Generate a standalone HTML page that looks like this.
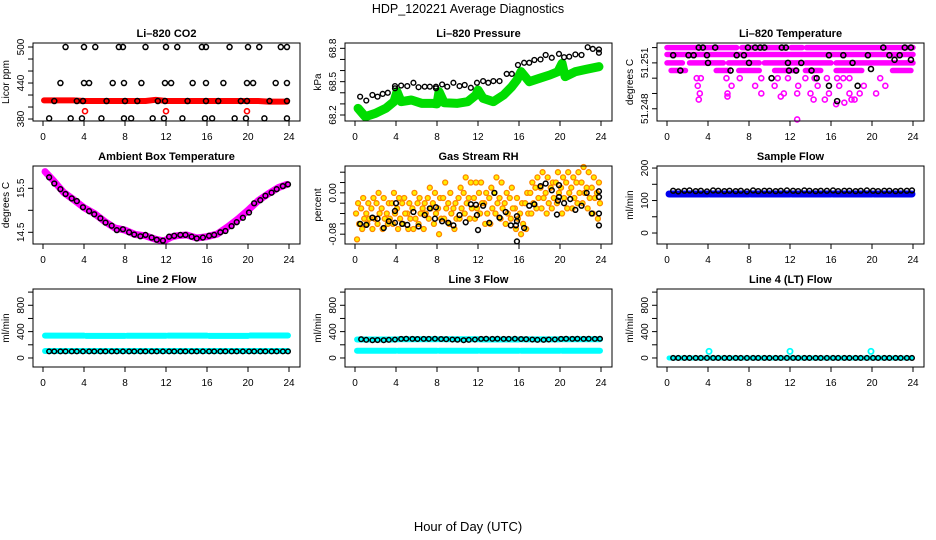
<!DOCTYPE html>
<html><head><meta charset="utf-8"><style>
html,body{margin:0;padding:0;background:#fff;}
svg{display:block;font-family:"Liberation Sans",Arial,sans-serif;}
</style></head><body>
<svg id="chart" width="936" height="540" viewBox="0 0 936 540" xmlns="http://www.w3.org/2000/svg">
<rect width="936" height="540" fill="#fff"/>
<text x="468" y="13" text-anchor="middle" font-size="12.5">HDP_120221  Average Diagnostics</text>
<text x="468" y="531" text-anchor="middle" font-size="13">Hour of Day (UTC)</text>
</svg>
<script>
// ---------- data ----------
const xTicks = [0,4,8,12,16,20,24];
// CO2
const co2Hi = [2.2,4,5.1,7.4,7.8,10,12,13.1,15.5,15.9,18.2,20,21.1,23.2,23.8];
const co2HiVal = 500;
const co2Mid = [1.7,4,4.5,6.8,7.9,9.6,11.9,12.5,14.6,15.9,17.6,19.9,20.5,22.7,23.8];
const co2MidVal = 440;
const co2Low = [1.1,3.3,3.9,6.2,8,9.2,11.2,11.9,14.1,15.9,17.1,19.3,19.9,22.1,23.8];
const co2LowVal = 410;
const co2Min = [0.6,2.7,3.8,5.7,7.9,8.6,10.7,11.8,13.6,15.8,16.5,18.7,19.8,21.6,23.8];
const co2MinVal = 381;
const co2RedHours = [0.1,1,2,3,4,5,6,7,8,9,10,11,12,13,14,15,16,17,18,19,20,21,22,23,23.8];
const co2RedVals = [411,411,411,411,410,410,410,410,410,410,410,412,410,410,410,410,410,410,410,410,410,410,409,409,409];
const co2RedOutHours = [4.1,12,19.9];
const co2RedOutVals = [393,393,393];
// Pressure
const presGreenHours = [0.3,1,2,3,3.8,4.1,4.5,5.5,6.5,7.5,8.0,8.2,8.7,10,11,11.8,12,12.5,13.5,14.5,15.3,15.8,16.2,17,18,19,19.8,20.2,20.5,21.5,22.5,23.8];
const presGreenVals = [68.26,68.185,68.215,68.26,68.32,68.41,68.32,68.335,68.305,68.305,68.30,68.41,68.31,68.305,68.32,68.38,68.425,68.35,68.32,68.38,68.455,68.515,68.59,68.50,68.53,68.56,68.59,68.665,68.545,68.59,68.61,68.635];
const presBlackHours = [0.5,1.1,1.7,2.2,2.7,3.2,3.9,3.9,4.5,5.1,5.7,6.2,6.8,7.3,7.9,7.9,8.5,9.0,9.6,10.2,10.7,11.3,11.9,12.5,13.0,13.5,14.1,14.8,15.3,15.9,16.5,17.0,17.5,18.1,18.6,19.2,19.9,20.4,20.9,21.5,22.1,22.7,23.2,23.8,23.8];
const presBlackVals = [68.365,68.33,68.38,68.365,68.39,68.40,68.46,68.44,68.465,68.46,68.49,68.45,68.455,68.455,68.455,68.44,68.475,68.455,68.49,68.46,68.47,68.445,68.49,68.505,68.49,68.505,68.505,68.57,68.57,68.65,68.67,68.67,68.695,68.70,68.74,68.715,68.75,68.72,68.725,68.745,68.74,68.81,68.795,68.79,68.76];
// Li-820 temperature
const tempBandLevels = [51.2520,51.2520,51.2520,51.2520,51.2520,51.25155,51.2510,51.2510,51.2510,51.2510,51.2510,51.2510,51.2505,51.2505,51.2505,51.2505,51.2505,51.2505,51.2505];
const tempBandStart = [0,3.5,7.3,12.1,13.6,0,0,2.2,6,9.5,13.5,16.5,0.4,4.8,7,10.5,13.5,16.5,22];
const tempBandEnd = [3.2,6.8,11.5,13.2,24,24,1.5,5.5,9,13,16,24,1.8,6,9,12.5,15,19,23.8];
const tempMagHours = [2.9,3.3,5.8,7.1,9.2,10.8,11.8,13.5,14.4,15.6,16.6,17.2,17.8,20.8,3,6.3,8.6,10.5,12.8,14.7,16.8,19.2,21.3,3.2,5.9,9.2,11.4,12.7,14,15.8,17.8,18.8,20.4,3.1,11.1,14.3,15.4,16.5,17.3,18,18.3,5.9,12.7];
const tempMagVals = [51.2500,51.2500,51.2500,51.2500,51.2500,51.2500,51.2500,51.2500,51.2500,51.2500,51.2500,51.2500,51.2500,51.2500,51.2495,51.2495,51.2495,51.2495,51.2495,51.2495,51.2495,51.2495,51.2495,51.2490,51.2490,51.2490,51.2490,51.2490,51.2490,51.2490,51.2490,51.2490,51.2490,51.2486,51.2488,51.2486,51.2486,51.2483,51.2484,51.2486,51.2486,51.2488,51.2473];
const tempBlackHours = [0.6,1.3,2.1,2.6,3.1,3.5,3.9,4.0,4.7,6.2,6.8,7.5,7.9,8,8.6,9.1,9.5,10.2,11.2,11.6,11.8,11.9,12.6,13.1,14.1,14.6,15.8,15.8,16.6,17.2,18.1,18.6,19.6,19.9,21.1,21.7,22.2,22.7,23.2,23.8,23.8];
const tempBlackVals = [51.2515,51.2505,51.2515,51.2515,51.2520,51.2520,51.2515,51.2510,51.2520,51.2505,51.2515,51.2515,51.2520,51.2510,51.2520,51.2520,51.2520,51.2500,51.2520,51.2520,51.2510,51.2505,51.2505,51.2510,51.2505,51.2500,51.2515,51.2495,51.2485,51.2515,51.2510,51.2495,51.2515,51.2506,51.2520,51.2515,51.2512,51.2515,51.2520,51.2512,51.2520];
// Ambient box temperature
const ambMagHours = [0.2,1,2,3,4,5,6,7,8,9,10,11,11.8,12.5,13,14,15,16,17,18,19,20,21,22,23,23.8];
const ambMagVals = [15.88,15.68,15.41,15.24,15.06,14.93,14.75,14.6,14.55,14.45,14.42,14.34,14.3,14.39,14.42,14.44,14.37,14.4,14.46,14.62,14.8,15.0,15.22,15.38,15.52,15.59];
const flowHours = [0.6,1.1,1.7,2.2,2.8,3.3,3.9,4.5,5.0,5.6,6.1,6.7,7.2,7.8,8.4,8.9,9.5,10.0,10.6,11.1,11.7,12.3,12.8,13.4,13.9,14.5,15.0,15.6,16.2,16.7,17.3,17.8,18.4,18.9,19.5,20.1,20.6,21.2,21.7,22.3,22.8,23.4,23.9];
const ambBlackVals = [15.75,15.61,15.48,15.37,15.27,15.21,15.07,14.98,14.91,14.82,14.72,14.65,14.55,14.57,14.5,14.45,14.41,14.44,14.38,14.33,14.31,14.40,14.42,14.44,14.44,14.40,14.36,14.38,14.42,14.44,14.5,14.53,14.64,14.73,14.83,14.95,15.16,15.23,15.33,15.4,15.48,15.55,15.59];
// Gas stream RH
const rhHours = [0.25,0.75,1.25,1.75,2.25,2.75,3.25,3.75,4.25,4.75,5.25,5.75,6.25,6.75,7.25,7.75,8.25,8.75,9.25,9.75,10.25,10.75,11.25,11.75,12.25,12.75,13.25,13.75,14.25,14.75,15.25,15.75,16.25,16.75,17.25,17.75,18.25,18.75,19.25,19.75,20.25,20.75,21.25,21.75,22.25,22.75,23.25,23.75];
const rhHi = [-0.02,-0.01,-0.02,-0.01,0.0,-0.01,-0.02,0.0,-0.01,-0.01,-0.02,0.0,-0.01,-0.02,0.01,0.0,-0.01,0.02,0.0,-0.02,0.01,0.03,0.02,0.02,0.02,0.0,0.01,0.03,0.02,0.0,0.01,-0.01,-0.02,0.0,0.02,0.03,0.04,0.03,0.02,0.04,0.03,0.04,0.03,0.04,0.05,0.04,0.03,0.02];
const rhMid1 = [-0.04,-0.03,-0.04,-0.03,-0.02,-0.03,-0.04,-0.02,-0.03,-0.02,-0.04,-0.03,-0.02,-0.03,-0.01,-0.02,-0.03,-0.01,-0.02,-0.03,-0.01,0.0,-0.01,-0.01,0.0,-0.02,-0.01,0.0,-0.01,-0.02,-0.01,-0.03,-0.04,-0.02,0.0,0.01,0.01,0.0,0.01,0.02,0.01,0.02,0.01,0.02,0.02,0.01,0.01,0.0];
const rhMid2 = [-0.06,-0.05,-0.05,-0.05,-0.04,-0.05,-0.05,-0.04,-0.05,-0.04,-0.05,-0.05,-0.04,-0.04,-0.03,-0.04,-0.05,-0.03,-0.04,-0.05,-0.03,-0.02,-0.03,-0.03,-0.02,-0.04,-0.03,-0.02,-0.03,-0.04,-0.03,-0.05,-0.06,-0.04,-0.02,-0.01,-0.01,-0.02,-0.01,0.0,-0.01,0.0,-0.01,0.0,0.0,-0.01,-0.01,-0.02];
const rhLo = [-0.09,-0.07,-0.06,-0.07,-0.06,-0.07,-0.06,-0.06,-0.07,-0.06,-0.07,-0.07,-0.06,-0.07,-0.05,-0.06,-0.08,-0.05,-0.06,-0.07,-0.05,-0.04,-0.05,-0.05,-0.04,-0.06,-0.06,-0.04,-0.05,-0.06,-0.05,-0.07,-0.08,-0.07,-0.04,-0.03,-0.03,-0.04,-0.03,-0.02,-0.04,-0.03,-0.03,-0.02,-0.02,-0.03,-0.04,-0.05];
const rhBlackHours = [0.5,1.1,1.7,2.2,2.8,3.3,3.9,3.9,4.0,4.6,5.1,5.7,6.2,6.8,7.3,7.9,7.8,8.5,9.1,9.6,10.2,10.8,11.3,11.8,11.9,12.0,12.5,13.1,13.6,14.1,14.7,15.2,15.7,15.8,15.8,15.8,16.5,17.0,17.5,18.1,18.6,19.2,19.7,19.8,19.9,19.9,20.4,21.0,21.5,22.1,22.6,23.1,23.8,23.8,23.8,23.8];
const rhBlackVals = [-0.06,-0.062,-0.048,-0.05,-0.068,-0.055,-0.058,-0.035,-0.02,-0.06,-0.062,-0.037,-0.065,-0.043,-0.03,-0.028,-0.05,-0.055,-0.058,-0.063,-0.043,-0.057,-0.022,-0.023,-0.043,-0.072,-0.025,-0.058,0.0,-0.048,-0.037,-0.063,-0.063,-0.045,-0.055,-0.094,-0.068,-0.025,-0.022,0.013,0.018,0.005,-0.042,-0.015,-0.008,0.015,-0.02,-0.012,-0.033,-0.025,0.0,-0.04,-0.04,-0.063,-0.008,0.003];
// Flows
const segStart = [0.2,4.2,8.2,12.2,16.2,20.2];
const segEnd = [4.0,8.0,12.0,16.0,20.0,23.9];
const sampleBandVals = [120,120,120,120,120,120];
const sampleBlackVals = [130,128,130,131,129,130,128,131,130,129,130,129,130,128,131,129,130,130,129,130,131,130,129,131,130,129,130,130,131,129,130,130,129,130,131,130,129,130,130,129,130,130,131];
const line2UpperVals = [340,335,338,340,335,342];
const line2LowerVals = [105,105,105,105,105,105];
const line2BlackVals = [100,100,100,100,100,100,100,100,100,100,100,100,100,100,100,100,100,100,100,100,100,100,100,100,100,100,100,100,100,100,100,100,100,100,100,100,100,100,100,100,100,100,100];
const line3LowerVals = [110,110,110,110,110,110];
const line3UpperVals = [280,285,285,280,282,285];
const line3BlackVals = [285,275,270,272,270,275,280,290,292,290,288,290,290,292,288,285,280,278,270,275,280,290,292,290,292,290,290,292,288,285,280,275,275,280,282,290,292,290,292,290,292,290,292];
const line4BandVals = [0,0,0,0,0,0];
const line4BlackVals = [0,0,0,0,0,0,0,0,0,0,0,0,0,0,0,0,0,0,0,0,0,0,0,0,0,0,0,0,0,0,0,0,0,0,0,0,0,0,0,0,0,0,0];
const line4OutHours = [4.1,12,19.9];
const line4OutVals = [100,100,100];

// ---------- drawing ----------
const NS = 'http://www.w3.org/2000/svg';
const svg = document.getElementById('chart');
function mk(tag, attrs, parent){
  const e = document.createElementNS(NS, tag);
  for (const k in attrs) e.setAttribute(k, attrs[k]);
  parent.appendChild(e);
  return e;
}
function panel(c, r, name, title, ylab, d0, d1, ticks, labels){
  const L = 33 + 312*c, R = 300 + 312*c, T = 43 + 123*r, B = 121 + 123*r;
  const g = mk('g', {}, svg);
  
  
  const sx = h => 43 + 312*c + h * 246/24;
  const sy = v => B - (v - d0)/(d1 - d0) * (B - T);
  const t = mk('text', {x:(L+R)/2, y:T-6, 'text-anchor':'middle', 'font-size':'11', 'font-weight':'bold'}, g);
  t.textContent = title;
  
  
  const yl = mk('text', {x:0, y:0, 'text-anchor':'middle', 'font-size':'10', transform:`translate(${L-24},${(T+B)/2}) rotate(-90)`}, g);
  yl.textContent = ylab;
  
  
  xTicks.forEach(h => {
    const x = sx(h);
    const tk = mk('line', {x1:x, x2:x, y1:B, y2:B+5, stroke:'#000', 'stroke-width':1}, g);
    
    
    const tl = mk('text', {x:x, y:B+19, 'text-anchor':'middle', 'font-size':'10'}, g);
    tl.textContent = h;
    
    
  });
  ticks.forEach(v => {
    const y = sy(v);
    const tk = mk('line', {x1:L-5, x2:L, y1:y, y2:y, stroke:'#000', 'stroke-width':1}, g);
    
    
  });
  labels.forEach(lb => {
    const y = sy(lb[0]);
    const tl = mk('text', {x:0, y:0, 'text-anchor':'middle', 'font-size':'10', transform:`translate(${L-9},${y}) rotate(-90)`}, g);
    tl.textContent = lb[1];
    
    
  });
  const marks = mk('g', {}, g);
  
  
  const box = mk('rect', {x:L, y:T, width:R-L, height:B-T, fill:'none', stroke:'#000', 'stroke-width':1}, g);
  
  
  return {sx, sy, g:marks};
}
function points(P, hours, vals, color, rad, sw, fill, name, dx){
  hours.forEach((h, i) => {
    const c = mk('circle', {cx:P.sx(h + (dx||0)), cy:P.sy(vals[i]), r:rad, fill:fill||'none', stroke:color, 'stroke-width':sw}, P.g);
    
    
  });
}
function band(P, hours, vals, color, w, name){
  const pl = mk('polyline', {points:hours.map((h,i)=>P.sx(h)+','+P.sy(vals[i])).join(' '), fill:'none', stroke:color, 'stroke-width':w, 'stroke-linejoin':'round', 'stroke-linecap':'round'}, P.g);
  
  
}
function segs(P, starts, ends, vals, color, w, name){
  starts.forEach((s, i) => {
    const ln = mk('line', {x1:P.sx(s), x2:P.sx(ends[i]), y1:P.sy(vals[i]), y2:P.sy(vals[i]), stroke:color, 'stroke-width':w, 'stroke-linecap':'round'}, P.g);
    
    
  });
}
const fill = (arr, v) => arr.map(() => v);

// Panel 1: CO2
let P = panel(0,0,'co2','Li\u2013820 CO2','Licor ppm',376.7,506.7,[380,400,420,440,460,480,500],[[380,'380'],[440,'440'],[500,'500']]);
band(P, co2RedHours, co2RedVals, '#ff0000', 6, 'co2-red-band');
points(P, co2RedOutHours, co2RedOutVals, '#ff0000', 2.5, 1.6, null, 'co2-red-point');
points(P, co2Hi, fill(co2Hi, co2HiVal), '#000', 2.5, 1.5, null, 'co2-black-point');
points(P, co2Mid, fill(co2Mid, co2MidVal), '#000', 2.5, 1.5, null, 'co2-black-point');
points(P, co2Low, fill(co2Low, co2LowVal), '#000', 2.5, 1.5, null, 'co2-black-point');
points(P, co2Min, fill(co2Min, co2MinVal), '#000', 2.5, 1.5, null, 'co2-black-point');

// Panel 2: Pressure
P = panel(1,0,'pressure','Li\u2013820 Pressure','kPa',68.146,68.848,[68.2,68.3,68.4,68.5,68.6,68.7,68.8],[[68.2,'68.2'],[68.5,'68.5'],[68.8,'68.8']]);
band(P, presGreenHours, presGreenVals, '#00dd00', 9, 'pressure-green-band');
points(P, presBlackHours, presBlackVals, '#000', 2.4, 1.4, null, 'pressure-black-point');

// Panel 3: Li-820 temperature
P = panel(2,0,'li-temperature','Li\u2013820 Temperature','degrees C',51.2472,51.2523,[51.248,51.249,51.25,51.251,51.252],[[51.248,'51.248'],[51.251,'51.251']]);
segs(P, tempBandStart, tempBandEnd, tempBandLevels, '#ff00ff', 5.5, 'temp-magenta-band');
points(P, tempMagHours, tempMagVals, '#ff00ff', 2.5, 1.6, null, 'temp-magenta-point');
points(P, tempBlackHours, tempBlackVals, '#000', 2.5, 1.6, null, 'temp-black-point');

// Panel 4: Ambient box temperature
P = panel(0,1,'ambient-temperature','Ambient Box Temperature','degrees C',14.234,16.007,[14.5,15,15.5],[[14.5,'14.5'],[15.5,'15.5']]);
band(P, ambMagHours, ambMagVals, '#ff00ff', 7, 'ambient-magenta-band');
points(P, flowHours, ambBlackVals, '#000', 2.4, 1.5, null, 'ambient-black-point');

// Panel 5: RH
P = panel(1,1,'gas-rh','Gas Stream RH','percent',-0.099,0.052,[-0.08,-0.06,-0.04,-0.02,0,0.02,0.04],[[-0.08,'-0.08'],[0,'0.00']]);
points(P, rhHours, rhHi, '#ff8800', 2.5, 1.3, '#ffee00', 'rh-orange-point', 0.05);
points(P, rhHours, rhMid1, '#ff8800', 2.5, 1.3, '#ffee00', 'rh-orange-point', -0.15);
points(P, rhHours, rhMid2, '#ff8800', 2.5, 1.3, '#ffee00', 'rh-orange-point', 0.15);
points(P, rhHours, rhLo, '#ff8800', 2.5, 1.3, '#ffee00', 'rh-orange-point', -0.05);
points(P, rhBlackHours, rhBlackVals, '#000', 2.4, 1.5, null, 'rh-black-point');

// Panel 6: Sample flow
P = panel(2,1,'sample-flow','Sample Flow','ml/min',-33.8,206.3,[0,50,100,150,200],[[0,'0'],[100,'100'],[200,'200']]);
segs(P, segStart, segEnd, sampleBandVals, '#0000ee', 7, 'sample-blue-band');
points(P, flowHours, sampleBlackVals, '#000', 2.4, 1.5, null, 'sample-black-point');

const flowTicks = [0,200,400,600,800,1000];
const flowLabels = [[0,'0'],[400,'400'],[800,'800']];
// Panel 7: Line 2
P = panel(0,2,'line2-flow','Line 2 Flow','ml/min',-137,1047,flowTicks,flowLabels);
segs(P, segStart, segEnd, line2UpperVals, '#00ffff', 6, 'line2-cyan-upper');
segs(P, segStart, segEnd, line2LowerVals, '#00ffff', 6, 'line2-cyan-lower');
points(P, flowHours, line2BlackVals, '#000', 2.3, 1.5, null, 'line2-black-point');

// Panel 8: Line 3
P = panel(1,2,'line3-flow','Line 3 Flow','ml/min',-137,1047,flowTicks,flowLabels);
segs(P, segStart, segEnd, line3LowerVals, '#00ffff', 6, 'line3-cyan-lower');
segs(P, segStart, segEnd, line3UpperVals, '#00ffff', 6, 'line3-cyan-upper');
points(P, flowHours, line3BlackVals, '#000', 2.3, 1.5, null, 'line3-black-point');

// Panel 9: Line 4
P = panel(2,2,'line4-flow','Line 4 (LT) Flow','ml/min',-137,1047,flowTicks,flowLabels);
segs(P, segStart, segEnd, line4BandVals, '#00ffff', 5, 'line4-cyan-band');
points(P, line4OutHours, line4OutVals, '#00ffff', 2.6, 1.8, null, 'line4-cyan-point');
points(P, flowHours, line4BlackVals, '#000', 2.3, 1.5, null, 'line4-black-point');
</script>
</body></html>
